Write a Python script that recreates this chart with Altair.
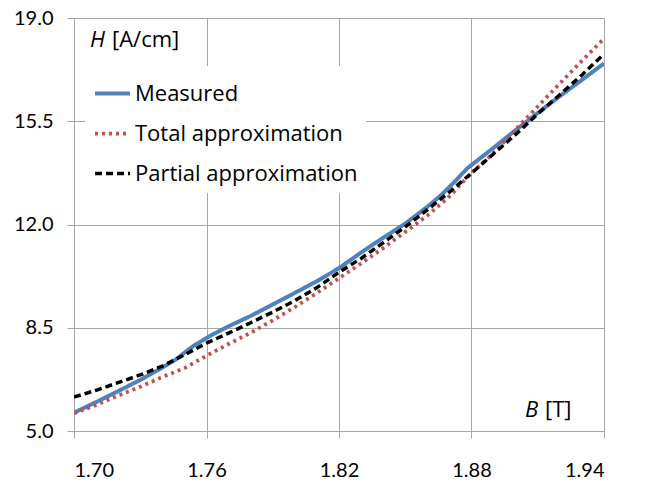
import altair as alt
import pandas as pd

# ---- data ----
series_names = ["Measured", "Total approximation", "Partial approximation"]

B_measured = [1.700, 1.710, 1.720, 1.730, 1.740, 1.746, 1.750, 1.754, 1.758, 1.762,
              1.770, 1.780, 1.790, 1.800, 1.810, 1.820, 1.830, 1.840, 1.850, 1.860,
              1.866, 1.872, 1.878, 1.884, 1.890, 1.900, 1.910, 1.920, 1.930, 1.940]
H_measured = [5.62, 5.98, 6.35, 6.73, 7.15, 7.42, 7.65, 7.88, 8.06, 8.24,
              8.55, 8.90, 9.29, 9.68, 10.08, 10.52, 11.05, 11.55, 12.03, 12.60,
              12.98, 13.42, 13.90, 14.25, 14.60, 15.20, 15.78, 16.35, 16.90, 17.46]

B_total = [1.70, 1.71, 1.72, 1.73, 1.74, 1.75, 1.76, 1.77, 1.78, 1.79, 1.80, 1.81, 1.82,
           1.83, 1.84, 1.85, 1.86, 1.87, 1.88, 1.89, 1.90, 1.91, 1.92, 1.93, 1.94]
H_total = [5.60, 5.88, 6.20, 6.50, 6.83, 7.13, 7.55, 7.95, 8.33, 8.75, 9.20, 9.68, 10.18,
           10.68, 11.20, 11.75, 12.30, 12.95, 13.75, 14.42, 15.22, 16.00, 16.78, 17.55, 18.30]

B_partial = [1.70, 1.71, 1.72, 1.73, 1.74, 1.75, 1.76, 1.77, 1.78, 1.79, 1.80, 1.81, 1.82,
             1.83, 1.84, 1.85, 1.86, 1.87, 1.88, 1.89, 1.90, 1.91, 1.92, 1.93, 1.94]
H_partial = [6.15, 6.38, 6.64, 6.90, 7.20, 7.58, 7.98, 8.32, 8.67, 9.03, 9.42, 9.86, 10.38,
             10.85, 11.38, 11.92, 12.50, 13.10, 13.74, 14.40, 15.05, 15.75, 16.40, 17.07, 17.78]

x_ticks = [1.70, 1.76, 1.82, 1.88, 1.94]
y_ticks = [5.0, 8.5, 12.0, 15.5, 19.0]

# ---- styles ----
colors = ["#4F81BD", "#C0504D", "#000000"]
dashes = [[1, 0], [3, 4], [7, 4]]
widths = [4, 3.5, 3]
FONT = "Lato"
LEG_FONT = "Open Sans"
GRID = "#A6A6A6"
PAD = "\u00a0" * 7

rows = []
for name, bs, hs in zip(series_names,
                        [B_measured, B_total, B_partial],
                        [H_measured, H_total, H_partial]):
    for b, h in zip(bs, hs):
        rows.append({"series": name, "B": b, "H": h})
df = pd.DataFrame(rows)

legend = alt.Legend(
    title=None, orient="none", legendX=11, legendY=48,
    fillColor="white", padding=8, symbolType="stroke", symbolSize=1225,
    labelFont=LEG_FONT, labelFontSize=22, labelColor="#000000", labelOffset=3,
    rowPadding=9, labelLimit=500,
    labelExpr="datum.label + '" + PAD + "'",
)

lines = alt.Chart(df).mark_line(clip=True).encode(
    x=alt.X("B:Q",
            scale=alt.Scale(domain=[1.70, 1.94], nice=False, zero=False),
            axis=alt.Axis(values=x_ticks, format=".2f", title=None,
                          labelPadding=22, labelBaseline="top")),
    y=alt.Y("H:Q",
            scale=alt.Scale(domain=[5.0, 19.0], nice=False, zero=False),
            axis=alt.Axis(values=y_ticks, format=".1f", title=None,
                          labelPadding=14)),
    color=alt.Color("series:N", sort=series_names,
                    scale=alt.Scale(domain=series_names, range=colors), legend=legend),
    strokeDash=alt.StrokeDash("series:N", sort=series_names,
                              scale=alt.Scale(domain=series_names, range=dashes), legend=legend),
    strokeWidth=alt.StrokeWidth("series:N", sort=series_names,
                                scale=alt.Scale(domain=series_names, range=widths), legend=legend),
)

def label(txt, x, y, italic=False):
    return alt.Chart(pd.DataFrame({"t": [txt]})).mark_text(
        font=LEG_FONT, fontSize=22, fontStyle="italic" if italic else "normal",
        align="left", baseline="middle", color="#000000",
    ).encode(text="t:N", x=alt.value(x), y=alt.value(y))

chart = alt.layer(
    lines,
    label("H", 16, 22, italic=True),
    label("[A/cm]", 38, 22),
    label("B", 451, 392, italic=True),
    label("[T]", 471, 392),
).properties(
    width=530, height=413,
    autosize=alt.AutoSizeParams(type="none"),
    padding={"left": 66, "top": 10, "right": 30, "bottom": 55},
).configure_view(
    strokeWidth=0
).configure_axis(
    grid=True, gridColor=GRID, gridWidth=1,
    domainColor=GRID, domainWidth=1,
    tickColor=GRID, tickSize=7, tickWidth=1,
    labelFont=FONT, labelFontSize=20, labelColor="#000000",
)

chart.save("out.html", embed_options={"renderer": "svg", "actions": False})
